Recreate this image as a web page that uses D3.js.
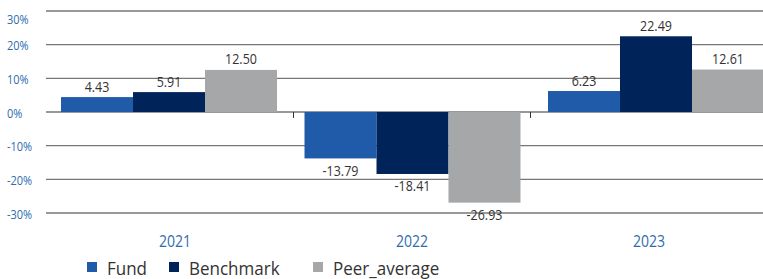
<!DOCTYPE html>
<html>
<head>
<meta charset="utf-8">
<script src="https://cdn.jsdelivr.net/npm/d3@7"></script>
<style>
  html, body { margin: 0; padding: 0; background: #fff; }
  svg { display: block; }
</style>
</head>
<body>
<svg id="chart"></svg>
<script>
// Annual returns (%)
const years = ["2021", "2022", "2023"];
const seriesNames = ["Fund", "Benchmark", "Peer_average"];
const fund = [4.43, -13.79, 6.23];
const benchmark = [5.91, -18.41, 22.49];
const peerAverage = [12.50, -26.93, 12.61];
const yTicks = [30, 20, 10, 0, -10, -20, -30];

const seriesValues = [fund, benchmark, peerAverage];
const colors = ["#1f5ba8", "#00245a", "#a6a7a9"];

const W = 763, H = 279;
const FONT = "'Open Sans', 'DejaVu Sans', sans-serif";
const STRETCH = 1.12; // source text is a bit taller than wide

const svg = d3.select("#chart").attr("width", W).attr("height", H);

const y = d3.scaleLinear().domain([-30, 30]).range([213, 11]);

// bar groups
const x = d3.scaleBand().domain(years).range([47.25, 777.75])
  .paddingInner(0.113).paddingOuter(0.0565);
const xs = d3.scaleBand().domain(d3.range(seriesNames.length)).range([0, x.bandwidth()]);

// category axis (labels + separators)
const xAxis = d3.scaleBand().domain(years).range([56.5, 767.5]);

function place(sel, fx, fy) {
  return sel.attr("transform", (d, i) => `translate(${fx(d, i)},${fy(d, i)}) scale(1,${STRETCH})`);
}

// gridlines
svg.append("g").selectAll("line")
  .data(yTicks).join("line")
  .attr("x1", 46).attr("x2", W)
  .attr("y1", d => y(d)).attr("y2", d => y(d))
  .attr("stroke", "#777").attr("stroke-width", 1.3);

// y labels
place(svg.append("g").selectAll("text")
  .data(yTicks).join("text")
  .attr("font-family", FONT).attr("font-size", 11)
  .attr("fill", "#2e6cae").attr("dy", "0.35em")
  .text(d => d + "%"), () => 7, d => Math.max(y(d) + 1.5, 20));

// bars
const rows = [];
years.forEach((yr, i) => seriesValues.forEach((vals, s) => rows.push({ yr, s, v: vals[i] })));

svg.append("g").selectAll("rect")
  .data(rows).join("rect")
  .attr("x", d => x(d.yr) + xs(d.s))
  .attr("width", xs.bandwidth())
  .attr("y", d => y(Math.max(0, d.v)))
  .attr("height", d => Math.abs(y(d.v) - y(0)))
  .attr("fill", d => colors[d.s]);

// value labels
place(svg.append("g").selectAll("text")
  .data(rows).join("text")
  .attr("font-family", FONT).attr("font-size", 12.5)
  .attr("fill", "#333").attr("text-anchor", "middle")
  .text(d => d.v.toFixed(2)),
  d => x(d.yr) + xs(d.s) + xs.bandwidth() / 2,
  d => d.v >= 0 ? y(d.v) - 5.5 : y(d.v) + 17.5);

// category separators on zero line
svg.append("g").selectAll("line")
  .data(years.slice(1)).join("line")
  .attr("x1", d => xAxis(d)).attr("x2", d => xAxis(d))
  .attr("y1", y(0)).attr("y2", y(0) + 6)
  .attr("stroke", "#333").attr("stroke-width", 1);

// year labels
place(svg.append("g").selectAll("text")
  .data(years).join("text")
  .attr("font-family", FONT).attr("font-size", 14)
  .attr("fill", "#2e6cae").attr("text-anchor", "middle")
  .text(d => d),
  d => xAxis(d) + xAxis.bandwidth() / 2, () => 247);

// legend
const legendX = [87, 169, 313];
const legend = svg.append("g").selectAll("g")
  .data(seriesNames).join("g")
  .attr("transform", (d, i) => `translate(${legendX[i]},262)`);
legend.append("rect")
  .attr("width", 10).attr("height", 10)
  .attr("fill", (d, i) => colors[i]);
legend.append("text")
  .attr("transform", `translate(20,12.5) scale(1,1.08)`)
  .attr("font-family", FONT).attr("font-size", 17)
  .attr("fill", "#333")
  .text(d => d);
</script>
</body>
</html>
